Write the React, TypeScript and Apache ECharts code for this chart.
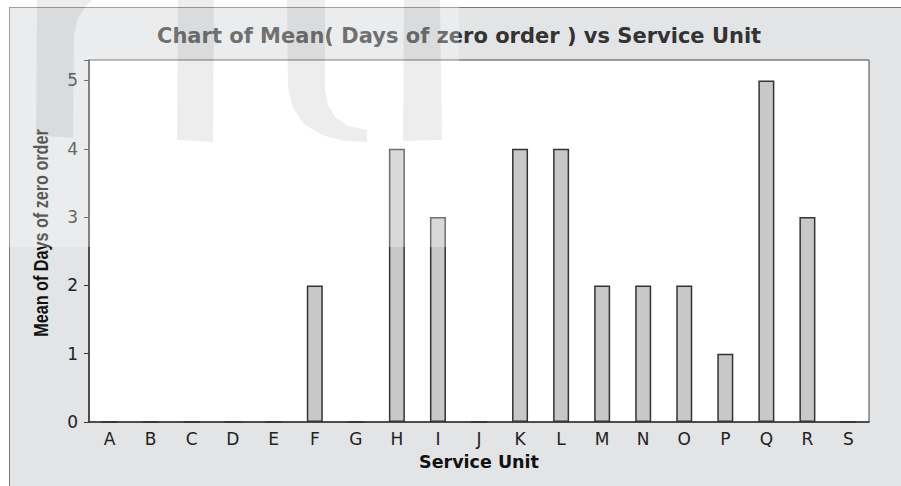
import React, { useEffect, useRef } from "react";
import * as echarts from "echarts";

const categories = ["A", "B", "C", "D", "E", "F", "G", "H", "I", "J", "K", "L", "M", "N", "O", "P", "Q", "R", "S"];
const meanDays = [0, 0, 0, 0, 0, 2, 0, 4, 3, 0, 4, 4, 2, 2, 2, 1, 5, 3, 0];
const yTicks = [0, 1, 2, 3, 4, 5];
const titleText = "Chart of Mean( Days of zero order ) vs Service Unit";
const xName = "Service Unit";
const yName = "Mean of Days of zero order";

export default function App() {
  const ref = useRef<HTMLDivElement>(null);
  useEffect(() => {
    if (!ref.current) return;
    const chart = echarts.init(ref.current, undefined, { renderer: "svg" });
    const wm = "rgba(0,0,0,0.07)";
    chart.setOption({
      animation: false,
      backgroundColor: "transparent",
      title: {
        text: titleText,
        left: 157,
        top: 25,
        padding: 0,
        textStyle: { fontFamily: "DejaVu Sans", fontWeight: "bold", fontSize: 21, color: "#333" },
      },
      grid: {
        left: 89,
        top: 60,
        right: 32,
        bottom: 64,
        show: true,
        backgroundColor: "#fff",
        borderColor: "#444",
        borderWidth: 1,
      },
      xAxis: {
        type: "category",
        data: categories,
        name: xName,
        nameLocation: "middle",
        nameGap: 31,
        nameTextStyle: { fontFamily: "DejaVu Sans", fontWeight: "bold", fontSize: 17.5, color: "#111" },
        axisLine: { lineStyle: { color: "#333", width: 1.5 } },
        axisTick: { alignWithLabel: true, length: 5, lineStyle: { color: "#333" } },
        axisLabel: { margin: 8, fontFamily: "DejaVu Sans", fontSize: 17, color: "#222" },
      },
      yAxis: {
        type: "value",
        min: 0,
        max: 5.3,
        interval: 1,
        splitLine: { show: false },
        axisLine: { show: true, lineStyle: { color: "#333", width: 1.5 } },
        axisTick: { show: true, length: 5, lineStyle: { color: "#333" } },
        axisLabel: {
          margin: 11,
          fontFamily: "DejaVu Sans",
          fontSize: 17,
          color: "#222",
          formatter: (v: number) => (yTicks.includes(v) ? String(v) : ""),
        },
      },
      series: [
        {
          type: "bar",
          data: meanDays,
          barWidth: 16,
          itemStyle: { color: "#c8c8c8", borderColor: "#333", borderWidth: 1.5 },
        },
      ],
      graphic: [
        {
          type: "text",
          x: 41,
          y: 233,
          rotation: Math.PI / 2,
          scaleX: 0.77,
          style: {
            text: yName,
            align: "center",
            verticalAlign: "middle",
            font: "bold 21px 'Liberation Sans', sans-serif",
            fill: "#111",
          },
          z: 50,
        },
        {
          type: "rect",
          shape: { x: 0, y: 0, width: 459, height: 247 },
          style: { fill: "rgba(255,255,255,0.3)" },
          silent: true,
          z: 100,
        },
        {
          type: "polygon",
          shape: { points: [[37, 0], [92, 0], [86, 6], [78, 18], [74, 35], [73, 138], [36, 135]] },
          style: { fill: wm },
          silent: true,
          z: 101,
        },
        {
          type: "polygon",
          shape: { points: [[178, 0], [214, 0], [213, 142], [177, 140]] },
          style: { fill: wm },
          silent: true,
          z: 101,
        },
        {
          type: "polygon",
          shape: {
            points: [[287, 0], [325, 0], [325, 90], [328, 105], [335, 117], [348, 126], [367, 130], [367, 142], [345, 141], [322, 135], [304, 124], [293, 108], [288, 88]],
          },
          style: { fill: wm },
          silent: true,
          z: 101,
        },
        {
          type: "polygon",
          shape: { points: [[404, 0], [440, 0], [442, 140], [403, 141]] },
          style: { fill: wm },
          silent: true,
          z: 101,
        },
      ],
    });
    return () => chart.dispose();
  }, []);
  return (
    <div style={{ position: "fixed", left: 0, top: 0, width: 901, height: 486, background: "#fff", overflow: "hidden" }}>
      <div
        style={{
          position: "absolute",
          left: 9,
          top: 7,
          width: 900,
          height: 490,
          background: "#e3e4e6",
          border: "1px solid #777",
          boxSizing: "border-box",
        }}
      />
      <div ref={ref} style={{ position: "absolute", left: 0, top: 0, width: 901, height: 486 }} />
    </div>
  );
}
